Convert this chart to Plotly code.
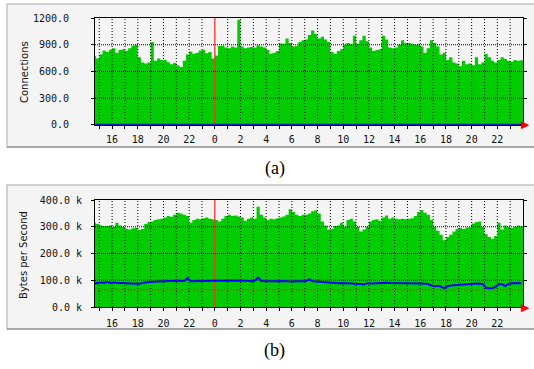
import numpy as np
import plotly.graph_objects as go

# ---- data (15-minute samples, sample at t covers (t-0.25, t]) ----
t_start = 14.75
t_step = 0.25

conn_in = [770, 745,
           790, 835, 820, 845,   860, 810, 840, 850,   830, 860, 890, 900,
           760, 700, 690, 700,   930, 720, 745, 730,   730, 705, 680, 695,
           670, 650, 720, 790,   825, 800, 810, 835,   845, 805, 820, 745,
           780, 885, 890, 870,   860, 880, 870, 1180,  880, 860, 870, 875,
           870, 895, 880, 870,   840, 800, 810, 830,   915, 910, 970, 920,
           880, 885, 930, 950,   960, 1010, 1060, 1020, 970, 990, 960, 930,
           820, 800, 830, 850,   900, 920, 905, 1000,  910, 950, 1000, 940,
           870, 830, 840, 850,   1000, 960, 870, 860,  870, 900, 950, 920,
           920, 910, 900, 905,   880, 810, 860, 950,   920, 880, 790, 810,
           730, 760, 700, 690,   660, 720, 680, 690,   670, 760, 680, 700,
           800, 760, 720, 700,   730, 760, 740, 720,   710, 730, 720, 725]

conn_out = [3, 3,
            3, 3, 3, 3,   3, 3, 3, 3,   3, 3, 3, 3,   3, 3, 3, 3,   3, 3, 3, 3,
            3, 3, 3, 3,   3, 3, 3, 3,   3, 3, 3, 3,   3, 3, 3, 3,   3, 3, 3, 3,
            3, 3, 3, 3,   3, 3, 3, 3,   3, 3, 3, 3,   3, 3, 3, 3,   3, 3, 3, 3,
            3, 3, 3, 3,   3, 3, 3, 3,   3, 3, 3, 3,   3, 3, 3, 3,   3, 3, 3, 3,
            3, 3, 3, 3,   3, 3, 3, 3,   3, 3, 3, 3,   3, 3, 3, 3,   3, 3, 3, 3,
            3, 3, 3, 3,   3, 3, 3, 3,   3, 3, 3, 3,   3, 3, 3, 3,   3, 3, 3, 3,
            3, 3, 3, 3,   3, 3, 3, 3,   3, 3, 3, 3]

bytes_in_k = [315, 310,
              305, 302, 303, 305,   300, 315, 305, 300,   292, 290, 294, 296,
              288, 292, 310, 318,   320, 325, 328, 330,   335, 340, 337, 345,
              352, 350, 345, 340,   315, 325, 330, 328,   332, 335, 330, 328,
              325, 320, 330, 340,   345, 340, 342, 338,   335, 322, 330, 335,
              330, 375, 345, 335,   325, 330, 328, 332,   335, 338, 345, 365,
              355, 345, 340, 345,   345, 350, 358, 362,   350, 320, 305, 290,
              292, 302, 305, 315,   300, 325, 330, 320,   300, 282, 290, 300,
              320, 325, 328, 322,   335, 342, 330, 335,   330, 328, 330, 328,
              330, 332, 340, 355,   362, 352, 345, 325,   300, 285, 270, 250,
              262, 270, 282, 292,   295, 292, 296, 298,   312, 318, 320, 300,
              272, 262, 255, 265,   315, 290, 305, 300,   295, 300, 305, 302]

bytes_out_k = [88, 90,
               92, 91, 93, 90,   92, 91, 90, 89,   88, 89, 88, 87,
               87, 90, 92, 93,   94, 95, 95, 96,   96, 97, 97, 98,
               97, 98, 97, 108,  96, 97, 98, 97,   97, 98, 97, 98,
               98, 97, 98, 99,   99, 100, 99, 100, 100, 98, 97, 96,
               99, 110, 97, 96,  97, 96, 96, 97,   96, 97, 96, 95,
               95, 96, 95, 96,   97, 104, 96, 95,  93, 92, 91, 90,
               91, 90, 89, 90,   90, 89, 88, 87,   87, 86, 84, 89,
               88, 89, 90, 91,   92, 91, 90, 90,   90, 89, 90, 89,
               89, 88, 89, 88,   88, 87, 86, 80,   78, 79, 76, 70,
               78, 80, 81, 82,   83, 84, 86, 87,   87, 88, 87, 86,
               72, 70, 71, 75,   86, 85, 78, 86,   89, 90, 90, 89]

max_line_k = 64

x_range = [14.667, 48.0]
hour_ticks = list(range(16, 48, 2))
hour_labels = [str(h % 24) for h in hour_ticks]
hour_minor = list(range(15, 48))
midnight = 24

conn_ticks = [0, 300, 600, 900, 1200]
conn_labels = ["0.0", "300.0", "600.0", "900.0", "1200.0"]
bytes_ticks = [0, 100, 200, 300, 400]
bytes_labels = ["0.0 k", "100.0 k", "200.0 k", "300.0 k", "400.0 k"]

# ---- figure ----
t = t_start + t_step * np.arange(len(conn_in))

GREEN = "#00cc00"
BLUE = "#0000ff"
MONO = "DejaVu Sans Mono"

fig = go.Figure()


def add_panel(xa, ya, vin, vout, yticks, ymax, outcolor):
    xs = list(t - t_step) + [t[-1]]
    ys = list(vin) + [vin[-1]]
    fig.add_trace(go.Scatter(x=xs, y=ys, mode="lines", line=dict(width=0, shape="hv"),
                             fill="tozeroy", fillcolor=GREEN, xaxis=xa, yaxis=ya,
                             hoverinfo="skip", showlegend=False))
    # dotted grid drawn above the area, as in MRTG
    gx, gy = [], []
    for h in hour_minor:
        if h == midnight:
            continue
        gx += [h, h, None]
        gy += [0, ymax, None]
    fig.add_trace(go.Scatter(x=gx, y=gy, mode="lines",
                             line=dict(color="black", width=1, dash="1px,2px"),
                             xaxis=xa, yaxis=ya, hoverinfo="skip", showlegend=False))
    hx, hy = [], []
    for v in yticks[1:-1]:
        hx += [x_range[0], x_range[1], None]
        hy += [v, v, None]
    fig.add_trace(go.Scatter(x=hx, y=hy, mode="lines",
                             line=dict(color="black", width=1, dash="1px,1px"),
                             xaxis=xa, yaxis=ya, hoverinfo="skip", showlegend=False))
    fig.add_trace(go.Scatter(x=[midnight, midnight], y=[0, ymax], mode="lines",
                             line=dict(color="#ff3030", width=1.3),
                             xaxis=xa, yaxis=ya, hoverinfo="skip", showlegend=False))
    fig.add_trace(go.Scatter(x=list(t - t_step / 2), y=vout, mode="lines",
                             line=dict(color=outcolor, width=2),
                             xaxis=xa, yaxis=ya, hoverinfo="skip", showlegend=False))
    # red arrow at the end of the time axis
    fig.add_annotation(text="\u25B6", x=x_range[1], y=0, xref=xa, yref=ya,
                       xanchor="center", yanchor="middle", xshift=2, showarrow=False,
                       font=dict(family="DejaVu Sans", size=11, color="#ff0000"))


add_panel("x", "y", conn_in, conn_out, conn_ticks, conn_ticks[-1], "#1020c0")
add_panel("x2", "y2", bytes_in_k, bytes_out_k, bytes_ticks, bytes_ticks[-1], BLUE)
fig.add_trace(go.Scatter(x=x_range, y=[max_line_k, max_line_k], mode="lines",
                         line=dict(color="#ff0000", width=1, dash="1px,2px"),
                         xaxis="x2", yaxis="y2", hoverinfo="skip", showlegend=False))

common_x = dict(range=x_range, showgrid=False, zeroline=False, showline=True,
                linecolor="black", linewidth=1, mirror=True, automargin=False,
                tickmode="array", tickvals=hour_ticks, ticktext=hour_labels,
                ticks="outside", ticklen=3, tickcolor="black",
                minor=dict(tickmode="array", tickvals=hour_minor, ticks="outside",
                           ticklen=3, tickcolor="black", showgrid=False),
                tickfont=dict(family=MONO, size=10, color="#111"),
                layer="above traces", fixedrange=True)
common_y = dict(showgrid=False, zeroline=False, showline=True, linecolor="black",
                linewidth=1, mirror="ticks", ticks="outside", ticklen=3,
                tickcolor="black", tickmode="array", automargin=False,
                tickfont=dict(family=MONO, size=10, color="#111"),
                layer="above traces", fixedrange=True)

fig.update_layout(
    width=534, height=369,
    margin=dict(l=95, r=11, t=18, b=62, autoexpand=False),
    paper_bgcolor="white", plot_bgcolor="#f4f4f4",
    xaxis=dict(common_x, anchor="y", domain=[0, 1], ticklabelstandoff=2),
    yaxis=dict(common_y, anchor="x", domain=[0.6298, 1.0], range=[0, 1200],
               tickvals=conn_ticks, ticktext=conn_labels, ticklabelstandoff=20),
    xaxis2=dict(common_x, anchor="y2", domain=[0, 1], ticklabelstandoff=4),
    yaxis2=dict(common_y, anchor="x2", domain=[0.0, 0.3702], range=[0, 400],
                tickvals=bytes_ticks, ticktext=bytes_labels, ticklabelstandoff=7),
    showlegend=False,
)

# panel boxes
for y0, y1 in [(0.5536, 1.0484), (-0.0761, 0.4221)]:
    fig.add_shape(type="rect", xref="paper", yref="paper", x0=-0.2056, x1=1.04,
                  y0=y0, y1=y1, fillcolor="#f4f4f4",
                  line=dict(color="#c4c4c4", width=1.5), layer="below")
    fig.add_shape(type="line", xref="paper", yref="paper", x0=-0.2056, x1=1.04,
                  y0=y0, y1=y0, line=dict(color="#a8a8a8", width=2), layer="below")

ann = dict(xref="paper", yref="paper", showarrow=False, xanchor="center", yanchor="middle")
fig.add_annotation(text="Connections", x=-0.1659, y=0.813, textangle=-90,
                   font=dict(family="DejaVu Sans", size=10, color="#111"), **ann)
fig.add_annotation(text="Bytes per Second", x=-0.1659, y=0.18, textangle=-90,
                   font=dict(family="DejaVu Sans", size=10, color="#111"), **ann)
fig.add_annotation(text="(a)", x=0.4194, y=0.479,
                   font=dict(family="Liberation Serif", size=18, color="black"), **ann)
fig.add_annotation(text="(b)", x=0.4194, y=-0.1488,
                   font=dict(family="Liberation Serif", size=18, color="black"), **ann)

fig.write_html("out.html", config={"displayModeBar": False, "staticPlot": True},
               post_script="document.body.style.margin='0px';"
                           "document.body.style.overflow='hidden';")
